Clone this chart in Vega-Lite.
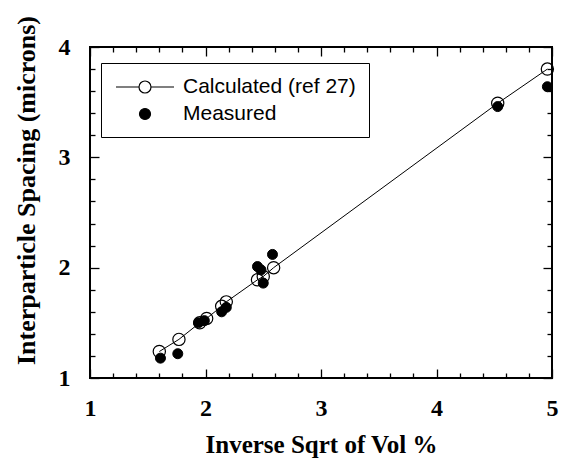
{
  "$schema": "https://vega.github.io/schema/vega-lite/v6.json",
  "autosize": {"type": "none"},
  "width": 462,
  "height": 331,
  "padding": {"left": 90, "top": 47, "right": 11, "bottom": 80},
  "background": "white",
  "config": {
    "view": {"stroke": "black", "strokeWidth": 2},
    "axis": {
      "grid": false,
      "domain": false,
      "tickColor": "black",
      "tickWidth": 1.3,
      "labelFont": "Liberation Serif",
      "labelFontWeight": "bold",
      "labelFontSize": 24,
      "labelColor": "black",
      "labelFlush": false,
      "titleFont": "Liberation Serif",
      "titleFontWeight": "bold",
      "titleFontSize": 25,
      "titleColor": "black",
      "labelOverlap": false
    }
  },
  "data": {
    "values": [
      {"x": 1.60, "y": 1.24, "series": "Calculated (ref 27)"},
      {"x": 1.77, "y": 1.35, "series": "Calculated (ref 27)"},
      {"x": 1.95, "y": 1.50, "series": "Calculated (ref 27)"},
      {"x": 2.01, "y": 1.54, "series": "Calculated (ref 27)"},
      {"x": 2.14, "y": 1.65, "series": "Calculated (ref 27)"},
      {"x": 2.18, "y": 1.69, "series": "Calculated (ref 27)"},
      {"x": 2.45, "y": 1.89, "series": "Calculated (ref 27)"},
      {"x": 2.50, "y": 1.92, "series": "Calculated (ref 27)"},
      {"x": 2.59, "y": 2.00, "series": "Calculated (ref 27)"},
      {"x": 4.53, "y": 3.49, "series": "Calculated (ref 27)"},
      {"x": 4.96, "y": 3.80, "series": "Calculated (ref 27)"},
      {"x": 1.61, "y": 1.18, "series": "Measured"},
      {"x": 1.76, "y": 1.22, "series": "Measured"},
      {"x": 1.94, "y": 1.50, "series": "Measured"},
      {"x": 1.99, "y": 1.52, "series": "Measured"},
      {"x": 2.14, "y": 1.60, "series": "Measured"},
      {"x": 2.18, "y": 1.64, "series": "Measured"},
      {"x": 2.45, "y": 2.01, "series": "Measured"},
      {"x": 2.48, "y": 1.98, "series": "Measured"},
      {"x": 2.50, "y": 1.86, "series": "Measured"},
      {"x": 2.58, "y": 2.12, "series": "Measured"},
      {"x": 4.53, "y": 3.46, "series": "Measured"},
      {"x": 4.96, "y": 3.64, "series": "Measured"}
    ]
  },
  "resolve": {"axis": {"x": "independent", "y": "independent"}},
  "layer": [
    {
      "transform": [{"filter": "datum.series === 'Calculated (ref 27)'"}],
      "mark": {"type": "line", "color": "black", "strokeWidth": 1},
      "encoding": {
        "x": {
          "field": "x", "type": "quantitative",
          "scale": {"domain": [1, 5], "nice": false, "zero": false},
          "axis": {
            "orient": "bottom",
            "title": "Inverse Sqrt of Vol %",
            "values": [1, 1.2, 1.4, 1.6, 1.8, 2, 2.2, 2.4, 2.6, 2.8, 3, 3.2, 3.4, 3.6, 3.8, 4, 4.2, 4.4, 4.6, 4.8, 5],
            "tickSize": {"condition": {"test": "datum.value % 1 === 0", "value": -9}, "value": -5},
            "labelExpr": "datum.value % 1 === 0 ? '' + datum.value : ''",
            "labelPadding": 27,
            "titlePadding": 8
          }
        },
        "y": {
          "field": "y", "type": "quantitative",
          "scale": {"domain": [1, 4], "nice": false, "zero": false},
          "axis": {
            "orient": "left",
            "title": "Interparticle Spacing (microns)",
            "titleFontSize": 26,
            "titleY": 143,
            "values": [1, 1.2, 1.4, 1.6, 1.8, 2, 2.2, 2.4, 2.6, 2.8, 3, 3.2, 3.4, 3.6, 3.8, 4],
            "tickSize": {"condition": {"test": "datum.value % 1 === 0", "value": -9}, "value": -5},
            "labelExpr": "datum.value % 1 === 0 ? '' + datum.value : ''",
            "labelPadding": 29,
            "titlePadding": 19
          }
        }
      }
    },
    {
      "transform": [{"filter": "datum.series === 'Calculated (ref 27)'"}],
      "mark": {"type": "point", "shape": "circle", "filled": true, "opacity": 1, "size": 150, "stroke": "black", "strokeWidth": 1.2},
      "encoding": {
        "x": {
          "field": "x", "type": "quantitative",
          "scale": {"domain": [1, 5], "nice": false, "zero": false},
          "axis": {
            "orient": "top",
            "title": null,
            "labels": false,
            "values": [1, 1.2, 1.4, 1.6, 1.8, 2, 2.2, 2.4, 2.6, 2.8, 3, 3.2, 3.4, 3.6, 3.8, 4, 4.2, 4.4, 4.6, 4.8, 5],
            "tickSize": {"condition": {"test": "datum.value % 1 === 0", "value": -9}, "value": -5}
          }
        },
        "y": {
          "field": "y", "type": "quantitative",
          "scale": {"domain": [1, 4], "nice": false, "zero": false},
          "axis": {
            "orient": "right",
            "title": null,
            "labels": false,
            "values": [1, 1.2, 1.4, 1.6, 1.8, 2, 2.2, 2.4, 2.6, 2.8, 3, 3.2, 3.4, 3.6, 3.8, 4],
            "tickSize": {"condition": {"test": "datum.value % 1 === 0", "value": -9}, "value": -5}
          }
        },
        "fill": {
          "field": "series", "type": "nominal",
          "scale": {"domain": ["Calculated (ref 27)", "Measured"], "range": ["transparent", "black"]},
          "legend": {
            "title": null,
            "orient": "none",
            "legendX": 11,
            "legendY": 16,
            "fillColor": "white",
            "strokeColor": "black",
            "padding": 13,
            "symbolSize": 400,
            "symbolOffset": 20,
            "symbolType": {"expr": "datum.value === 'Calculated (ref 27)' ? 'M-2.9,0L-0.6,0M0.6,0L2.9,0M-0.6,0A0.6,0.6,0,1,1,0.6,0A0.6,0.6,0,1,1,-0.6,0Z' : 'M-0.55,0A0.55,0.55,0,1,1,0.55,0A0.55,0.55,0,1,1,-0.55,0Z'"},
            "symbolStrokeColor": "black",
            "symbolStrokeWidth": 1.2,
            "labelOffset": 27,
            "labelFont": "Liberation Sans",
            "labelFontSize": 21,
            "labelColor": "black",
            "labelLimit": 400,
            "rowPadding": 6,
            "encode": {
              "legend": {"update": {"strokeWidth": {"value": 3}}}
            }
          }
        }
      }
    },
    {
      "transform": [{"filter": "datum.series === 'Measured'"}],
      "mark": {"type": "point", "shape": "circle", "filled": true, "opacity": 1, "size": 100, "stroke": "black", "strokeWidth": 1},
      "encoding": {
        "x": {"field": "x", "type": "quantitative", "scale": {"domain": [1, 5], "nice": false, "zero": false}, "axis": null},
        "y": {"field": "y", "type": "quantitative", "scale": {"domain": [1, 4], "nice": false, "zero": false}, "axis": null},
        "fill": {"field": "series", "type": "nominal"}
      }
    }
  ]
}
